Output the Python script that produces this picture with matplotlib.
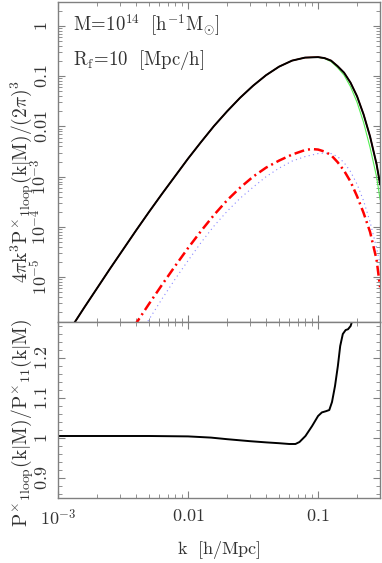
import matplotlib as mpl
import matplotlib.pyplot as plt
from matplotlib.ticker import FixedLocator, MultipleLocator, LogLocator, NullFormatter
import numpy as np

mpl.rcParams['mathtext.fontset'] = 'cm'
mpl.rcParams['font.family'] = 'serif'
mpl.rcParams['font.serif'] = ['cmr10', 'DejaVu Serif']
mpl.rcParams['axes.formatter.use_mathtext'] = True

# values, stored as log10
# 1-loop cross spectrum (black) and linear one (green)
logk_tot = [-3.0, -2.9, -2.8, -2.7, -2.6, -2.5, -2.4, -2.3, -2.2, -2.1, -2.0, -1.9, -1.8,
            -1.7, -1.6, -1.5, -1.4, -1.3, -1.2, -1.1, -1.0, -0.95, -0.9, -0.85, -0.8,
            -0.75, -0.7, -0.65, -0.6, -0.55, -0.523]
logp_1loop = [-6.41, -6.01, -5.61, -5.22, -4.83, -4.45, -4.07, -3.70, -3.34, -2.99, -2.64,
              -2.31, -1.99, -1.70, -1.43, -1.19, -0.98, -0.81, -0.69, -0.63, -0.62, -0.64,
              -0.69, -0.80, -0.93, -1.13, -1.40, -1.76, -2.20, -2.75, -3.15]
logp_lin = [-6.41, -6.01, -5.61, -5.22, -4.83, -4.45, -4.07, -3.70, -3.34, -2.99, -2.64,
            -2.31, -1.99, -1.70, -1.43, -1.19, -0.98, -0.81, -0.69, -0.63, -0.625, -0.65,
            -0.71, -0.83, -0.98, -1.21, -1.52, -1.92, -2.42, -3.00, -3.45]

# two of the individual terms (red dash-dot, blue dotted)
logk_red = [-2.5, -2.4, -2.3, -2.2, -2.1, -2.0, -1.9, -1.8, -1.7, -1.6, -1.5, -1.4, -1.3,
            -1.2, -1.1, -1.05, -1.0, -0.95, -0.9, -0.85, -0.8, -0.75, -0.7, -0.65, -0.6,
            -0.55, -0.523]
logp_red = [-6.32, -5.92, -5.53, -5.15, -4.78, -4.42, -4.08, -3.76, -3.47, -3.22, -3.00,
            -2.82, -2.68, -2.56, -2.47, -2.45, -2.46, -2.50, -2.57, -2.71, -2.88, -3.10,
            -3.39, -3.72, -4.10, -4.65, -5.20]

logk_blue = [-2.4, -2.3, -2.2, -2.1, -2.0, -1.9, -1.8, -1.7, -1.6, -1.5, -1.4, -1.3, -1.2,
             -1.1, -1.0, -0.95, -0.9, -0.85, -0.8, -0.75, -0.7, -0.65, -0.6, -0.55, -0.523]
logp_blue = [-6.25, -5.84, -5.43, -5.04, -4.67, -4.31, -3.98, -3.69, -3.43, -3.21, -3.00,
             -2.83, -2.69, -2.60, -2.54, -2.53, -2.54, -2.60, -2.72, -2.90, -3.15, -3.48,
             -3.90, -4.42, -4.75]

# ratio P_1loop / P_11
k_ratio = [1e-3, 2e-3, 5e-3, 0.01, 0.015, 0.02, 0.03, 0.04, 0.05, 0.06, 0.067, 0.072, 0.08,
           0.09, 0.1, 0.107, 0.115, 0.122, 0.128, 0.135, 0.142, 0.148, 0.155, 0.163, 0.17,
           0.178, 0.186, 0.19]
ratio = [1.005, 1.005, 1.005, 1.004, 1.001, 0.997, 0.992, 0.989, 0.987, 0.985, 0.985, 0.99,
         1.005, 1.03, 1.055, 1.064, 1.067, 1.07, 1.09, 1.13, 1.18, 1.23, 1.26, 1.27, 1.272,
         1.28, 1.30, 1.32]

edge = '#808080'
txt = '#333333'

fig = plt.figure(figsize=(3.82, 5.63), dpi=100)
ax1 = fig.add_axes([0.152, 0.428, 0.843, 0.5685])
ax2 = fig.add_axes([0.152, 0.1155, 0.843, 0.3125], sharex=ax1)

ax1.plot(10**np.array(logk_tot), 10**np.array(logp_lin), color='#55ee55', lw=0.8, zorder=2)
ax1.plot(10**np.array(logk_red), 10**np.array(logp_red), color='red', lw=1.8,
         dashes=(4, 1.6, 0.8, 1.6), zorder=3)
ax1.plot(10**np.array(logk_blue), 10**np.array(logp_blue), color='#8888ff', lw=0.8,
         linestyle=(0, (1, 3)), zorder=2)
ax1.plot(10**np.array(logk_tot), 10**np.array(logp_1loop), color='red', lw=1.0, zorder=3)
ax1.plot(10**np.array(logk_tot), 10**np.array(logp_1loop), color='black', lw=1.4, zorder=4)

ax2.plot(k_ratio, ratio, color='black', lw=1.4)

ax1.set_xscale('log')
ax1.set_yscale('log')
ax1.set_xlim(1e-3, 0.3)
ax1.set_ylim(1.28e-6, 3.0)
ax2.set_ylim(0.85, 1.29)

ax1.yaxis.set_major_locator(FixedLocator([1e-5, 1e-4, 1e-3, 1e-2, 1e-1, 1]))
ax1.yaxis.set_minor_locator(LogLocator(base=10, subs=np.arange(2, 10), numticks=20))
ax1.yaxis.set_minor_formatter(NullFormatter())
ax1.set_yticklabels([r'$10^{-5}$', r'$10^{-4}$', r'$10^{-3}$', '$0.01$', '$0.1$', '$1$'])

ax2.xaxis.set_major_locator(FixedLocator([1e-3, 1e-2, 1e-1]))
ax2.xaxis.set_minor_locator(LogLocator(base=10, subs=np.arange(2, 10), numticks=20))
ax2.xaxis.set_minor_formatter(NullFormatter())
ax2.set_xticklabels([r'$10^{-3}$', '$0.01$', '$0.1$'])
ax2.yaxis.set_major_locator(FixedLocator([0.9, 1.0, 1.1, 1.2]))
ax2.yaxis.set_minor_locator(MultipleLocator(0.02))
ax2.set_yticklabels(['$0.9$', '$1$', '$1.1$', '$1.2$'])

plt.setp(ax1.get_xticklabels(), visible=False)

for ax in (ax1, ax2):
    for s in ax.spines.values():
        s.set_color(edge)
        s.set_linewidth(1.0)
    ax.tick_params(which='both', direction='in', top=True, right=True, color=edge,
                   labelcolor=txt, labelsize=13)
    ax.tick_params(which='major', length=5, width=0.8)
    ax.tick_params(which='minor', length=3, width=0.6)
    for lab in ax.get_yticklabels():
        lab.set_rotation(90)
        lab.set_va('center')

ax1.tick_params(axis='y', pad=6)
ax2.tick_params(axis='y', pad=6)
ax2.tick_params(axis='x', pad=7)

ax1.set_ylabel(r'$4\pi\mathrm{k}^3\mathrm{P}^{\times}{}_{\mathrm{1loop}}(\mathrm{k}|\mathrm{M})/(2\pi)^3$',
               fontsize=14, color=txt)
ax2.set_ylabel(r'$\mathrm{P}^{\times}{}_{\mathrm{1loop}}(\mathrm{k}|\mathrm{M})/\mathrm{P}^{\times}{}_{11}(\mathrm{k}|\mathrm{M})$',
               fontsize=14, color=txt)
ax1.yaxis.set_label_coords(-0.07, 0.44)
ax2.yaxis.set_label_coords(-0.07, 0.43)
ax2.set_xlabel(r'$\mathrm{k}\ \ [\mathrm{h/Mpc}]$', fontsize=13, color=txt, labelpad=8)

ax1.text(0.047, 0.928, r'$\mathrm{M}\!=\!10^{14}\ \ [\mathrm{h}^{-1}\mathrm{M}_{\odot}]$',
         transform=ax1.transAxes, fontsize=13.5, color=txt, va='center', ha='left')
ax1.text(0.047, 0.82, r'$\mathrm{R_f}\!=\!10\ \ [\mathrm{Mpc/h}]$',
         transform=ax1.transAxes, fontsize=13.5, color=txt, va='center', ha='left')

plt.savefig('out.png', dpi=100)
